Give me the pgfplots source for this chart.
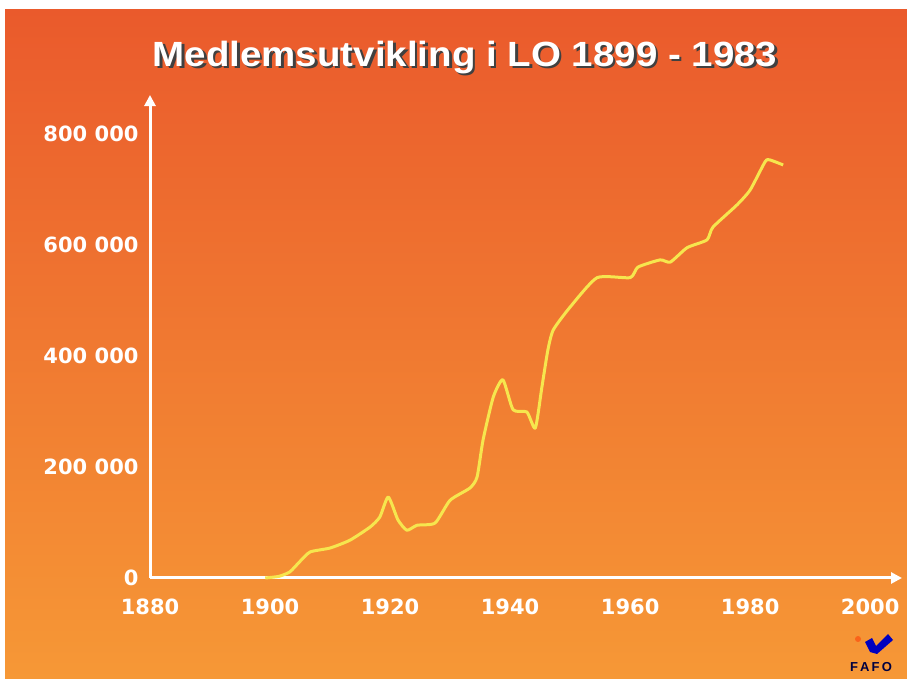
\documentclass[border=0pt]{standalone}
\usepackage{fontspec}
\setmainfont{Liberation Sans}
\newfontfamily\dvsans{DejaVu Sans}
\usepackage{graphicx}
\usepackage{pgfplots}
\pgfplotsset{compat=1.18}
\usetikzlibrary{arrows.meta}
\definecolor{bgtop}{RGB}{234,90,44}
\definecolor{bgmid}{RGB}{241,118,48}
\definecolor{bgbot}{RGB}{246,152,54}
\definecolor{curve}{RGB}{246,230,78}
\begin{document}
\begin{tikzpicture}
\begin{scope}[x=1pt,y=1pt]
\useasboundingbox (0,0) rectangle (907,679);
\fill[white] (0,0) rectangle (907,679);
\shade[top color=bgtop, middle color=bgmid, bottom color=bgbot] (5,0) rectangle (907,669);
% title with shadow
\node[anchor=base, text=black!75, font=\bfseries\fontsize{35}{35}\selectfont] at (467.5,610) {\scalebox{1.1}[1]{Medlemsutvikling i LO 1899 - 1983}};
\node[anchor=base, text=white, font=\bfseries\fontsize{35}{35}\selectfont] at (465,612) {\scalebox{1.1}[1]{Medlemsutvikling i LO 1899 - 1983}};
% FAFO logo
\fill[red!60!orange, opacity=0.5] (858,40) circle (3);
\fill[blue!75!black] (865,37) -- (872,41) -- (876,33) -- (888,45) -- (893,39) -- (877,25) -- (870,27) -- cycle;
\node[anchor=base, text=blue!25!black, font=\bfseries\fontsize{13}{13}\selectfont] at (871,7) {F\,A\,F\,O};
\end{scope}
\begin{axis}[
  at={(150pt,101pt)}, anchor=south west,
  scale only axis, width=752pt, height=483pt,
  xmin=1880, xmax=2005.3, ymin=0, ymax=870000,
  axis lines=left,
  axis line style={white, line width=3pt, -{Triangle[width=11pt,length=11pt]}},
  xtick={1880,1900,1920,1940,1960,1980,2000},
  xticklabels={1880,1900,1920,1940,1960,1980,2000},
  ytick={0,200000,400000,600000,800000},
  yticklabels={0,200 000,400 000,600 000,800 000},
  scaled y ticks=false, scaled x ticks=false,
  major tick length=0pt,
  tick style={draw=none},
  ticklabel style={text=white, font=\dvsans\bfseries\fontsize{21}{21}\selectfont},
  xticklabel style={anchor=north, yshift=-17pt},
  yticklabel style={anchor=east, xshift=-8pt},
  clip=false,
]
\addplot[curve, line width=3pt, smooth, tension=0.35, line join=round] coordinates {
(1899.2,0) (1901.5,3000) (1903.3,11000) (1905,30000) (1906.7,47000) (1910,54000)
(1913.3,68000) (1916.7,92000) (1918.3,110000) (1919.7,146000) (1921.3,105000)
(1922.8,86000) (1924.5,95000) (1927.5,99000) (1930,140000) (1933.3,162000)
(1934.5,182000) (1935.5,249000) (1937.2,326000) (1938.8,357000) (1940.5,303000)
(1942.8,299000) (1944.2,270000) (1945.3,344000) (1946.3,411000) (1947.2,447000)
(1950,488000) (1954.5,541000) (1960,541000) (1961.3,560000) (1965,573000)
(1966.7,569000) (1969.5,595000) (1972.8,609000) (1973.8,632000) (1977.8,672000)
(1980,699000) (1982.5,750000) (1983.3,753000) (1985.5,744000)
};
\end{axis}
\end{tikzpicture}
\end{document}
